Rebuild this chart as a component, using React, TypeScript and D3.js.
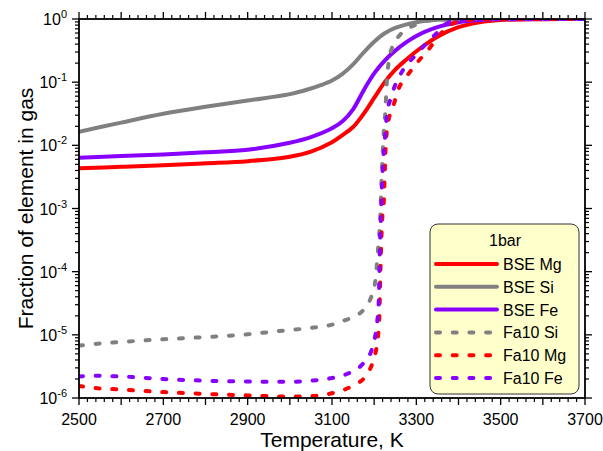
import React from "react";
import * as d3 from "d3";

// temperatures (K) and fraction of element in gas
const bseMgT = [2500, 2600, 2700, 2800, 2900, 3000, 3050, 3100, 3125, 3150, 3175, 3200, 3225, 3250, 3275, 3300, 3350, 3400, 3450, 3500, 3600, 3700];
const bseMgFrac = [4.33e-3, 4.57e-3, 4.83e-3, 5.19e-3, 5.62e-3, 6.61e-3, 7.94e-3, 1.12e-2, 1.45e-2, 1.95e-2, 3.16e-2, 5.62e-2, 0.1, 0.158, 0.224, 0.309, 0.525, 0.741, 0.891, 0.966, 0.995, 1];

const bseSiT = [2500, 2600, 2700, 2800, 2900, 3000, 3050, 3075, 3100, 3125, 3150, 3175, 3200, 3225, 3250, 3300, 3350, 3400, 3500, 3700];
const bseSiFrac = [1.64e-2, 2.29e-2, 3.16e-2, 4.07e-2, 5.13e-2, 6.46e-2, 7.94e-2, 9.02e-2, 0.106, 0.135, 0.191, 0.295, 0.437, 0.596, 0.724, 0.891, 0.973, 0.993, 0.999, 1];

const bseFeT = [2500, 2600, 2700, 2800, 2900, 3000, 3050, 3100, 3125, 3150, 3175, 3200, 3225, 3250, 3300, 3350, 3400, 3450, 3500, 3700];
const bseFeFrac = [6.38e-3, 6.76e-3, 7.19e-3, 7.76e-3, 8.51e-3, 1.1e-2, 1.35e-2, 1.86e-2, 2.4e-2, 3.72e-2, 7.41e-2, 0.138, 0.219, 0.316, 0.537, 0.741, 0.891, 0.966, 0.991, 1];

const fa10SiT = [2500, 2530, 2650, 2800, 2900, 2975, 3050, 3100, 3130, 3166, 3190, 3202, 3209, 3214, 3218.5, 3223, 3226, 3230, 3234, 3242, 3261, 3297, 3340, 3400, 3700];
const fa10SiFrac = [6.76e-6, 7.08e-6, 8.13e-6, 9.23e-6, 1.02e-5, 1.15e-5, 1.29e-5, 1.45e-5, 1.7e-5, 2.19e-5, 3.55e-5, 6.61e-5, 2.19e-4, 6.61e-4, 4.07e-3, 1.74e-2, 3.02e-2, 0.1, 0.2, 0.347, 0.558, 0.804, 0.964, 0.995, 1];

const fa10MgT = [2500, 2520, 2600, 2700, 2800, 2900, 3000, 3050, 3100, 3150, 3180, 3198, 3207, 3212, 3214, 3216, 3219, 3223, 3227, 3233, 3244, 3257, 3277, 3301, 3328, 3352, 3380, 3420, 3500, 3700];
const fa10MgFrac = [1.55e-6, 1.48e-6, 1.36e-6, 1.24e-6, 1.16e-6, 1.1e-6, 1.05e-6, 1.07e-6, 1.19e-6, 1.58e-6, 2.24e-6, 3.98e-6, 7.41e-6, 1.7e-5, 5.75e-5, 1.95e-4, 6.61e-4, 1.35e-3, 8.51e-3, 2.29e-2, 3.89e-2, 7.59e-2, 0.123, 0.2, 0.324, 0.525, 0.8, 0.966, 0.995, 1];

const fa10FeT = [2500, 2540, 2600, 2700, 2800, 2900, 3000, 3050, 3100, 3135, 3170, 3194, 3203, 3208, 3211, 3212.5, 3214, 3215.5, 3220, 3226, 3230, 3238, 3250, 3269, 3300, 3324, 3352, 3372, 3400, 3450, 3700];
const fa10FeFrac = [2.19e-6, 2.25e-6, 2.19e-6, 2.0e-6, 1.88e-6, 1.82e-6, 1.8e-6, 1.88e-6, 2.07e-6, 2.4e-6, 3.31e-6, 5.75e-6, 1.0e-5, 1.82e-5, 3.55e-5, 1.07e-4, 3.16e-4, 6.61e-4, 4.07e-3, 1.45e-2, 3.02e-2, 5.25e-2, 9.02e-2, 0.158, 0.275, 0.412, 0.631, 0.851, 0.966, 0.995, 1];

const seriesNames = ["BSE Mg", "BSE Si", "BSE Fe", "Fa10 Si", "Fa10 Mg", "Fa10 Fe"];
const seriesT = [bseMgT, bseSiT, bseFeT, fa10SiT, fa10MgT, fa10FeT];
const seriesFrac = [bseMgFrac, bseSiFrac, bseFeFrac, fa10SiFrac, fa10MgFrac, fa10FeFrac];
const seriesColors = ["#ff0000", "#808080", "#8800ff", "#808080", "#ff0000", "#8800ff"];
const seriesDashed = [false, false, false, true, true, true];

const xTickLabels = [2500, 2700, 2900, 3100, 3300, 3500, 3700];
const yTickExps = [0, -1, -2, -3, -4, -5, -6];

const width = 603;
const height = 451;
const left = 79, right = 585, top = 19, bottom = 398;
const font = "'Liberation Sans', Arial, sans-serif";

export default function App() {
  const x = d3.scaleLinear().domain([2500, 3700]).range([left, right]);
  const y = d3.scaleLog().domain([1e-6, 1]).range([bottom, top]);

  // solid curves are smooth S-shapes, dashed ones have near-vertical jumps
  const smoothLine = d3.line<[number, number]>()
    .x(d => x(d[0]))
    .y(d => y(d[1]))
    .curve(d3.curveCatmullRom.alpha(0.5));
  const steepLine = d3.line<[number, number]>()
    .x(d => x(d[0]))
    .y(d => y(d[1]))
    .curve(d3.curveMonotoneX);

  const xMajor = d3.range(2500, 3701, 100);
  const xMinor = d3.range(2500, 3701, 20).filter(t => (t - 2500) % 100 !== 0);
  const yMinor: number[] = [];
  for (let e = -6; e < 0; e++) {
    for (let m = 2; m <= 9; m++) yMinor.push(m * Math.pow(10, e));
  }

  const legX = 430, legY = 224;

  return (
    <svg width={width} height={height} style={{ position: "absolute", left: 0, top: 0 }} fontFamily={font}>
      <rect width={width} height={height} fill="#fff" />
      <defs>
        <clipPath id="plotclip">
          <rect x={left} y={top} width={right - left} height={bottom - top} />
        </clipPath>
      </defs>

      {/* curves */}
      <g clipPath="url(#plotclip)" fill="none">
        {seriesNames.map((name, i) => {
          const pts = seriesT[i].map((t, j) => [t, seriesFrac[i][j]] as [number, number]);
          const gen = seriesDashed[i] ? steepLine : smoothLine;
          return (
            <path
              key={name}
              d={gen(pts) || ""}
              stroke={seriesColors[i]}
              strokeWidth={4}
              strokeLinecap="round"
              strokeLinejoin="round"
              strokeDasharray={seriesDashed[i] ? "4 12.7" : undefined}
            />
          );
        })}
      </g>

      {/* axes frame and ticks */}
      <g stroke="#000">
        <rect x={left} y={top} width={right - left} height={bottom - top} fill="none" strokeWidth={1.8} />
        {xMajor.map(t => (
          <g key={"xM" + t} strokeWidth={1.3}>
            <line x1={x(t)} x2={x(t)} y1={bottom} y2={bottom + 7} />
            <line x1={x(t)} x2={x(t)} y1={top} y2={top - 7} />
          </g>
        ))}
        {xMinor.map(t => (
          <g key={"xm" + t} strokeWidth={1.2}>
            <line x1={x(t)} x2={x(t)} y1={bottom} y2={bottom + 4} />
            <line x1={x(t)} x2={x(t)} y1={top} y2={top - 4} />
          </g>
        ))}
        {yTickExps.map(e => (
          <g key={"yM" + e} strokeWidth={1.3}>
            <line x1={left} x2={left - 7} y1={y(Math.pow(10, e))} y2={y(Math.pow(10, e))} />
            <line x1={right} x2={right + 7} y1={y(Math.pow(10, e))} y2={y(Math.pow(10, e))} />
          </g>
        ))}
        {yMinor.map(v => (
          <g key={"ym" + v} strokeWidth={1.2}>
            <line x1={left} x2={left - 4} y1={y(v)} y2={y(v)} />
            <line x1={right} x2={right + 4} y1={y(v)} y2={y(v)} />
          </g>
        ))}
      </g>

      {/* tick labels */}
      {xTickLabels.map(t => (
        <text key={"xl" + t} x={x(t)} y={424.5} fontSize={16} textAnchor="middle">{t}</text>
      ))}
      {yTickExps.map(e => (
        <text key={"yl" + e} x={67} y={y(Math.pow(10, e)) + 6} fontSize={16} textAnchor="end">
          10<tspan fontSize={11} dy={-7}>{e === 0 ? "0" : "-" + Math.abs(e)}</tspan>
        </text>
      ))}

      {/* axis titles */}
      <text x={(left + right) / 2} y={446.5} fontSize={21} textAnchor="middle">Temperature, K</text>
      <text transform={`translate(33, ${(top + bottom) / 2}) rotate(-90)`} fontSize={21} textAnchor="middle">
        Fraction of element in gas
      </text>

      {/* legend */}
      <g>
        <rect x={legX} y={legY} width={149} height={170} rx={8} ry={8} fill="#ffffcc" stroke="#333" strokeWidth={1} />
        <text x={legX + 75} y={legY + 22} fontSize={16} textAnchor="middle">1bar</text>
        {seriesNames.map((name, i) => {
          const ly = legY + 40 + i * 22.8;
          return (
            <g key={"lg" + name}>
              <line
                x1={legX + 6}
                x2={legX + 67}
                y1={ly}
                y2={ly}
                stroke={seriesColors[i]}
                strokeWidth={4}
                strokeLinecap="round"
                strokeDasharray={seriesDashed[i] ? "4 12.7" : undefined}
              />
              <text x={legX + 73} y={ly + 6} fontSize={16}>{name}</text>
            </g>
          );
        })}
      </g>
    </svg>
  );
}
